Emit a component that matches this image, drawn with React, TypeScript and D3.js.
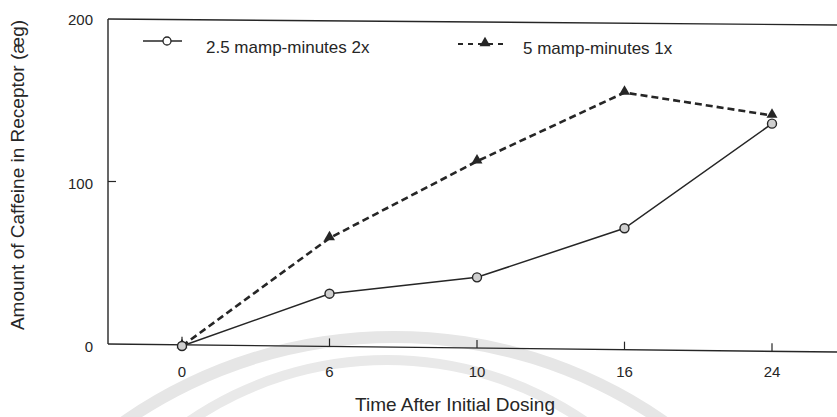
import * as d3 from "d3";

const times = ["0", "6", "10", "16", "24"];
const twoDoses = [0, 32, 42, 72, 136];
const oneDose = [0, 66, 113, 155, 141];
const yTicks = [0, 100, 200];
const seriesNames = ["2.5 mamp-minutes 2x", "5 mamp-minutes 1x"];

const W = 837;
const H = 417;
const ink = "#262626";
const font = "'Liberation Sans', Arial, sans-serif";

// the scanned axis leans a little: baseline y at the left and right edge of the frame
const axisL = 344;
const axisR = 352;
const lean = (px: number) => axisL + ((axisR - axisL) * (px - 108)) / (W - 108);

export default function App() {
  const x = d3.scalePoint<string>().domain(times).range([182, 772]);
  const y = d3.scaleLinear().domain([0, 200]).range([346, 19]);

  const line = d3
    .line<number>()
    .x((_, i) => x(times[i]) as number)
    .y((d) => y(d));

  const tri = d3.symbol(d3.symbolTriangle, 52)() as string;
  const band = (r: number, w: number) =>
    d3.arc()({ innerRadius: r, outerRadius: r + w, startAngle: -1.2, endAngle: 1.2 }) as string;

  return (
    <svg width={W} height={H} style={{ position: "fixed", left: 0, top: 0, background: "#fff" }}
      fontFamily={font}>
      {/* faint watermark from the scan */}
      <path d={band(466, 12)} transform="translate(394,809)" fill="#e6e6e6" />
      <path d={band(344, 10)} transform="translate(387,709)" fill="#e9e9e9" />

      {/* frame */}
      <line x1={108} x2={108} y1={19} y2={axisL} stroke={ink} strokeWidth={1.4} />
      <line x1={108} x2={W} y1={19} y2={25} stroke={ink} strokeWidth={1.4} />
      <line x1={108} x2={W} y1={axisL} y2={axisR} stroke={ink} strokeWidth={1.4} />

      {yTicks.map((t) => (
        <g key={t}>
          {t === 100 && <line x1={108} x2={116} y1={y(t) - 1} y2={y(t) - 1} stroke={ink} strokeWidth={1.2} />}
          <text x={93} y={y(t) + 6} textAnchor="end" fontSize={15} fill={ink}>{t}</text>
        </g>
      ))}
      {times.map((t) => {
        const px = x(t) as number;
        return (
          <g key={t}>
            <line x1={px} x2={px} y1={lean(px)} y2={lean(px) - 8} stroke={ink} strokeWidth={1.2} />
            <text x={px} y={377} textAnchor="middle" fontSize={15} fill={ink}>{t}</text>
          </g>
        );
      })}

      <text transform="translate(24,175) rotate(-90)" textAnchor="middle" fontSize={19} fill={ink}>
        Amount of Caffeine in Receptor (æg)
      </text>
      <text x={455} y={411} textAnchor="middle" fontSize={19} fill={ink}>Time After Initial Dosing</text>

      {/* series */}
      <path d={line(twoDoses) as string} fill="none" stroke={ink} strokeWidth={1.5} />
      <path d={line(oneDose) as string} fill="none" stroke={ink} strokeWidth={2.6} strokeDasharray="7,4" />
      {oneDose.map((v, i) => (
        <path key={"t" + i} d={tri} transform={`translate(${x(times[i])},${y(v) - 1})`} fill={ink} />
      ))}
      {twoDoses.map((v, i) => (
        <circle key={"c" + i} cx={x(times[i])} cy={y(v)} r={4.5} fill="#cfcfcf" stroke={ink} strokeWidth={1.4} />
      ))}

      {/* legend */}
      <line x1={143} x2={182} y1={41} y2={41} stroke={ink} strokeWidth={1.3} />
      <circle cx={167} cy={41} r={4} fill="#fff" stroke={ink} strokeWidth={1.3} />
      <text x={206} y={53} fontSize={17} fill={ink}>{seriesNames[0]}</text>
      <line x1={458} x2={508} y1={44} y2={44} stroke={ink} strokeWidth={2.2} strokeDasharray="5,5" />
      <path d={tri} transform="translate(485,43)" fill={ink} />
      <text x={523} y={54} fontSize={17} fill={ink}>{seriesNames[1]}</text>
    </svg>
  );
}
